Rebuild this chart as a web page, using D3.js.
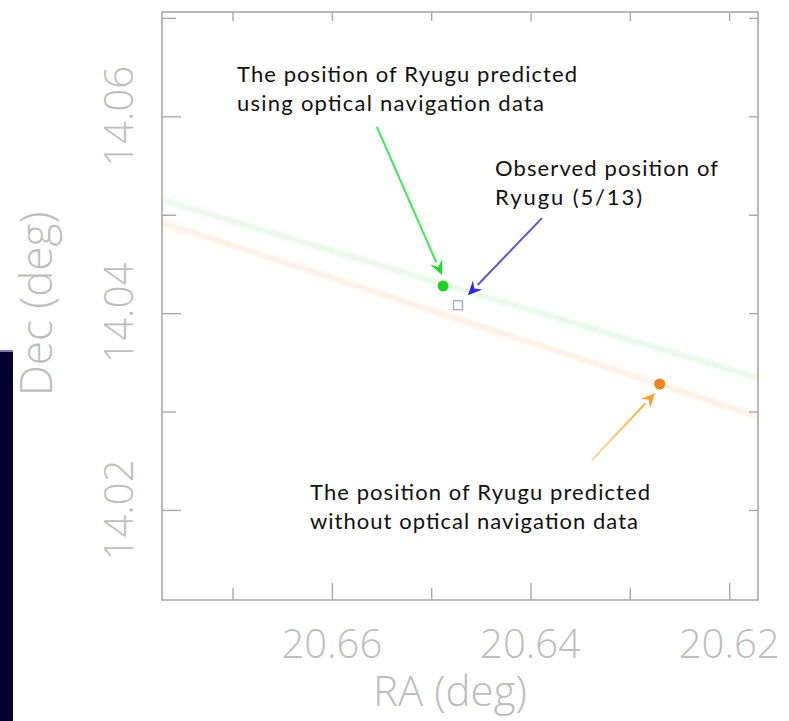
<!DOCTYPE html>
<html>
<head>
<meta charset="utf-8">
<script src="https://cdn.jsdelivr.net/npm/d3@7"></script>
<style>
  html, body { margin: 0; padding: 0; background: #fff; }
  svg { display: block; }
</style>
</head>
<body>
<svg id="chart" width="789" height="721"></svg>
<script>
// ---- data (RA, Dec in degrees) ----
const raDomain = [20.6771, 20.6171];
const decDomain = [14.01085, 14.0706];
const raTicks = [20.62, 20.63, 20.64, 20.65, 20.66, 20.67];
const raTickLabels = ["20.66", "20.64", "20.62"];
const decTicks = [14.02, 14.03, 14.04, 14.05, 14.06, 14.07];
const decTickLabels = ["14.06", "14.04", "14.02"];

// predicted tracks (start / end of each line)
const greenTrack = [[20.6771, 14.0515], [20.6171, 14.0334]];
const orangeTrack = [[20.6771, 14.0492], [20.6171, 14.0295]];

// positions
const predictedWithOpnav = [[20.6488, 14.04275]];
const predictedWithoutOpnav = [[20.6270, 14.0328]];
const observedPosition = [[20.6473, 14.0408]];

// annotation arrows: [tailRA, tailDec, tipRA, tipDec]
const arrowGreen = [20.65547, 14.05892, 20.64892, 14.04387];
const arrowBlue = [20.63885, 14.04966, 20.6463, 14.04183];
const arrowOrange = [20.63382, 14.02505, 20.62747, 14.03186];

const svg = d3.select("#chart");
const L = 162, R = 758, T = 12, B = 600;
const x = d3.scaleLinear().domain(raDomain).range([L, R]);
const y = d3.scaleLinear().domain(decDomain).range([B, T]);

// dark side panel
svg.append("rect").attr("x", 0).attr("y", 352).attr("width", 13).attr("height", 369).attr("fill", "#04022e");
svg.append("rect").attr("x", 0).attr("y", 350).attr("width", 13).attr("height", 2).attr("fill", "#7c7cb4");

const defs = svg.append("defs");
defs.append("filter").attr("id", "soft").attr("x", "-5%").attr("y", "-50%").attr("width", "110%").attr("height", "200%")
  .append("feGaussianBlur").attr("stdDeviation", 1.8);

const grad = defs.append("linearGradient").attr("id", "orgrad")
  .attr("gradientUnits", "userSpaceOnUse")
  .attr("x1", x(arrowOrange[0])).attr("y1", y(arrowOrange[1]))
  .attr("x2", x(arrowOrange[2])).attr("y2", y(arrowOrange[3]));
grad.append("stop").attr("offset", "0%").attr("stop-color", "#f3e2a8");
grad.append("stop").attr("offset", "100%").attr("stop-color", "#f2a22a");

const axisColor = "#a8a8a8";
const labelColor = "#bdbdbd";

// tracks
const line = d3.line().x(d => x(d[0])).y(d => y(d[1]));
defs.append("clipPath").attr("id", "clip")
  .append("rect").attr("x", L).attr("y", T).attr("width", R - L).attr("height", B - T);
const tracks = svg.append("g").attr("clip-path", "url(#clip)");
tracks.append("path").datum(greenTrack).attr("d", line)
  .attr("stroke", "#7ad87a").attr("stroke-width", 6).attr("stroke-opacity", 0.17)
  .attr("fill", "none").attr("filter", "url(#soft)");
tracks.append("path").datum(orangeTrack).attr("d", line)
  .attr("stroke", "#f5a46a").attr("stroke-width", 6).attr("stroke-opacity", 0.17)
  .attr("fill", "none").attr("filter", "url(#soft)");

// frame
svg.append("rect").attr("x", L).attr("y", T).attr("width", R - L).attr("height", B - T)
  .attr("fill", "none").attr("stroke", axisColor).attr("stroke-width", 1.6);

// axes ticks (inward)
function styleAxis(g) {
  g.select(".domain").remove();
  g.selectAll(".tick line").attr("stroke", axisColor).attr("stroke-width", 1.4);
}
const isMajorX = v => raTickLabels.includes(v.toFixed(2));
const isMajorY = v => decTickLabels.includes(v.toFixed(2));
svg.append("g").attr("transform", `translate(0,${B})`)
  .call(d3.axisBottom(x).tickValues(raTicks).tickFormat("").tickSize(0)).call(styleAxis)
  .selectAll(".tick line").attr("y2", d => isMajorX(d) ? -17 : -12);
svg.append("g").attr("transform", `translate(0,${T})`)
  .call(d3.axisTop(x).tickValues(raTicks).tickFormat("").tickSize(0)).call(styleAxis)
  .selectAll(".tick line").attr("y2", 9);
svg.append("g").attr("transform", `translate(${L},0)`)
  .call(d3.axisLeft(y).tickValues(decTicks).tickFormat("").tickSize(0)).call(styleAxis)
  .selectAll(".tick line").attr("x2", d => isMajorY(d) ? 19 : 14);
svg.append("g").attr("transform", `translate(${R},0)`)
  .call(d3.axisRight(y).tickValues(decTicks).tickFormat("").tickSize(0)).call(styleAxis)
  .selectAll(".tick line").attr("x2", -9);

// tick labels
const tickFont = "'Open Sans', 'DejaVu Sans', sans-serif";
svg.append("g").selectAll("text").data(raTickLabels).join("text")
  .attr("x", d => x(+d)).attr("y", 658)
  .attr("text-anchor", "middle")
  .attr("font-family", tickFont).attr("font-weight", 300).attr("font-size", 40)
  .attr("fill", labelColor).text(d => d);
svg.append("g").selectAll("text").data(decTickLabels).join("text")
  .attr("transform", d => `translate(133,${y(+d)}) rotate(-90)`)
  .attr("text-anchor", "middle")
  .attr("font-family", tickFont).attr("font-weight", 300).attr("font-size", 40)
  .attr("fill", labelColor).text(d => d);

// axis titles
svg.append("text").attr("x", 450).attr("y", 706).attr("text-anchor", "middle")
  .attr("font-family", tickFont).attr("font-weight", 300).attr("font-size", 42)
  .attr("fill", labelColor).text("RA (deg)");
svg.append("text").attr("transform", "translate(52,304) rotate(-90)").attr("text-anchor", "middle")
  .attr("font-family", tickFont).attr("font-weight", 300).attr("font-size", 44)
  .attr("fill", labelColor).text("Dec (deg)");

// points
svg.append("g").selectAll("circle").data(predictedWithOpnav).join("circle")
  .attr("cx", d => x(d[0])).attr("cy", d => y(d[1])).attr("r", 5.5).attr("fill", "#1fcf2a");
svg.append("g").selectAll("circle").data(predictedWithoutOpnav).join("circle")
  .attr("cx", d => x(d[0])).attr("cy", d => y(d[1])).attr("r", 5.5).attr("fill", "#e8861c");
svg.append("g").selectAll("rect").data(observedPosition).join("rect")
  .attr("x", d => x(d[0]) - 4.5).attr("y", d => y(d[1]) - 4.5).attr("width", 9).attr("height", 9)
  .attr("fill", "#fff").attr("stroke", "#9aa6e0").attr("stroke-width", 1.3);

// arrows
function arrow(a, color, headColor) {
  const x1 = x(a[0]), y1 = y(a[1]), x2 = x(a[2]), y2 = y(a[3]);
  const ang = Math.atan2(y2 - y1, x2 - x1);
  const hl = 14, hw = 6.5;
  const bx = x2 - hl * Math.cos(ang), by = y2 - hl * Math.sin(ang);
  svg.append("line").attr("x1", x1).attr("y1", y1).attr("x2", bx).attr("y2", by)
    .attr("stroke", color).attr("stroke-width", 2);
  const px = -Math.sin(ang) * hw, py = Math.cos(ang) * hw;
  svg.append("path")
    .attr("d", `M${x2},${y2} L${bx + px},${by + py} L${bx + 0.35 * hl * Math.cos(ang)},${by + 0.35 * hl * Math.sin(ang)} L${bx - px},${by - py} Z`)
    .attr("fill", headColor);
}
arrow(arrowGreen, "#3fe65a", "#1fdc2c");
arrow(arrowBlue, "#5656d8", "#2a2ad8");
arrow(arrowOrange, "url(#orgrad)", "#f2a230");

// annotation text
const annFont = "Lato, 'Open Sans', sans-serif";
const ann = [
  { x: 237, y: 82, w: 340, t: "The position of Ryugu predicted" },
  { x: 237, y: 111, w: 307, t: "using optical navigation data" },
  { x: 495, y: 176, w: 223, t: "Observed position of" },
  { x: 495, y: 205, w: 147, t: "Ryugu (5/13)" },
  { x: 310, y: 500, w: 340, t: "The position of Ryugu predicted" },
  { x: 310, y: 529, w: 328, t: "without optical navigation data" }
];
svg.append("g").selectAll("text").data(ann).join("text")
  .attr("x", d => d.x).attr("y", d => d.y)
  .attr("font-family", annFont).attr("font-size", 22).attr("fill", "#111")
  .attr("textLength", d => d.w).attr("lengthAdjust", "spacing")
  .text(d => d.t);
</script>
</body>
</html>
